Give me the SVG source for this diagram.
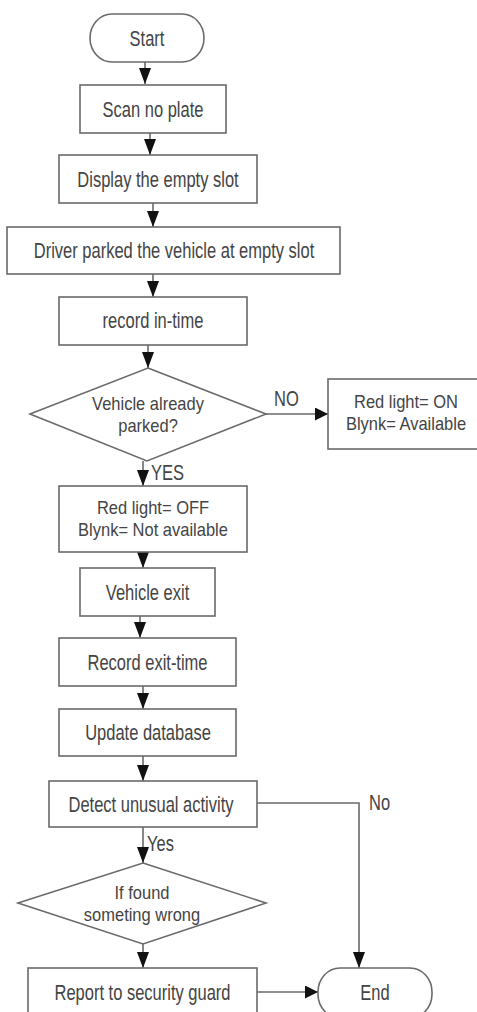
<svg xmlns="http://www.w3.org/2000/svg" width="477" height="1012" viewBox="0 0 477 1012">
<style>
.shape{fill:#fff;stroke:#6a6a6a;stroke-width:1.6}
.line{fill:none;stroke:#6a6a6a;stroke-width:1.6}
.t{font-family:"Liberation Sans",Arial,sans-serif;font-size:16.5px;fill:#444;text-anchor:middle}
.lbl{font-family:"Liberation Sans",Arial,sans-serif;font-size:16.5px;fill:#444}
</style>
<defs>
<marker id="arrV" markerUnits="userSpaceOnUse" markerWidth="16" markerHeight="12" refX="16" refY="6" orient="auto">
<path d="M0,0 L16,6 L0,12 z" fill="#111"/>
</marker>
<marker id="arrH" markerUnits="userSpaceOnUse" markerWidth="13" markerHeight="13" refX="13" refY="6.5" orient="auto">
<path d="M0,0 L13,6.5 L0,13 z" fill="#111"/>
</marker>
</defs>
<g id="connectors">
<path class="line" d="M145,62 V84" marker-end="url(#arrV)"/>
<path class="line" d="M150,133 V155" marker-end="url(#arrV)"/>
<path class="line" d="M153,203 V227" marker-end="url(#arrV)"/>
<path class="line" d="M153,274 V297" marker-end="url(#arrV)"/>
<path class="line" d="M148,345 V368" marker-end="url(#arrV)"/>
<path class="line" d="M266,414 H328" marker-end="url(#arrH)"/>
<path class="line" d="M143,461 V486" marker-end="url(#arrV)"/>
<path class="line" d="M143,552 V568" marker-end="url(#arrV)"/>
<path class="line" d="M140,616 V638" marker-end="url(#arrV)"/>
<path class="line" d="M143,686 V709" marker-end="url(#arrV)"/>
<path class="line" d="M143,756 V781" marker-end="url(#arrV)"/>
<path class="line" d="M143,827 V863" marker-end="url(#arrV)"/>
<path class="line" d="M143,944 V968" marker-end="url(#arrV)"/>
<path class="line" d="M257,992 H318" marker-end="url(#arrH)"/>
<path class="line" d="M257,803 H359 V968" marker-end="url(#arrV)"/>
<text class="lbl" transform="translate(274,398) scale(1,1.3)" dy="0.35em">NO</text>
<text class="lbl" transform="translate(151,472) scale(1,1.3)" dy="0.35em">YES</text>
<text class="lbl" transform="translate(147,843) scale(1,1.3)" dy="0.35em">Yes</text>
<text class="lbl" transform="translate(369,802) scale(1,1.3)" dy="0.35em">No</text>
</g>
<g id="start">
<rect class="shape" x="90" y="14" width="114" height="48" rx="22" ry="24"/>
<text class="t" transform="translate(147,38) scale(1,1.3)" dy="0.35em">Start</text>
</g>
<g id="scan">
<rect class="shape" x="80" y="85" width="146" height="48"/>
<text class="t" transform="translate(153,109) scale(1,1.3)" dy="0.35em">Scan no plate</text>
</g>
<g id="display">
<rect class="shape" x="59" y="155" width="198" height="48"/>
<text class="t" transform="translate(158,179) scale(1,1.3)" dy="0.35em">Display the empty slot</text>
</g>
<g id="driver">
<rect class="shape" x="7" y="227" width="333" height="47"/>
<text class="t" transform="translate(174,250) scale(1,1.3)" dy="0.35em">Driver parked the vehicle at empty slot</text>
</g>
<g id="record-in">
<rect class="shape" x="59" y="297" width="188" height="48"/>
<text class="t" transform="translate(153,320) scale(1,1.3)" dy="0.35em">record in-time</text>
</g>
<g id="decision-parked">
<polygon class="shape" points="148,368 266,414 147,461 30,414"/>
<text class="t" transform="translate(148,403.5) scale(1,1.15)"><tspan x="0" dy="0.35em">Vehicle already</tspan><tspan x="0" dy="18.8">parked?</tspan></text>
</g>
<g id="red-on">
<rect class="shape" x="328" y="379" width="160" height="70"/>
<text class="t" transform="translate(406,401.5) scale(1,1.15)"><tspan x="0" dy="0.35em">Red light= ON</tspan><tspan x="0" dy="18.8">Blynk= Available</tspan></text>
</g>
<g id="red-off">
<rect class="shape" x="59" y="486" width="188" height="66"/>
<text class="t" transform="translate(153,507.5) scale(1,1.15)"><tspan x="0" dy="0.35em">Red light= OFF</tspan><tspan x="0" dy="18.8">Blynk= Not available</tspan></text>
</g>
<g id="vehicle-exit">
<rect class="shape" x="80" y="568" width="135" height="48"/>
<text class="t" transform="translate(147.5,592) scale(1,1.3)" dy="0.35em">Vehicle exit</text>
</g>
<g id="record-exit">
<rect class="shape" x="59" y="638" width="177" height="48"/>
<text class="t" transform="translate(147.5,662) scale(1,1.3)" dy="0.35em">Record exit-time</text>
</g>
<g id="update-db">
<rect class="shape" x="59" y="709" width="177" height="47"/>
<text class="t" transform="translate(148,732) scale(1,1.3)" dy="0.35em">Update database</text>
</g>
<g id="detect">
<rect class="shape" x="49" y="781" width="208" height="46"/>
<text class="t" transform="translate(151,804) scale(1,1.3)" dy="0.35em">Detect unusual activity</text>
</g>
<g id="decision-wrong">
<polygon class="shape" points="143,863 266,903 143,944 18,903"/>
<text class="t" transform="translate(142,892.5) scale(1,1.15)"><tspan x="0" dy="0.35em">If found</tspan><tspan x="0" dy="18.8">someting wrong</tspan></text>
</g>
<g id="report">
<rect class="shape" x="28" y="968" width="229" height="50"/>
<text class="t" transform="translate(142.5,992) scale(1,1.3)" dy="0.35em">Report to security guard</text>
</g>
<g id="end">
<rect class="shape" x="318" y="968" width="114" height="50" rx="22" ry="24"/>
<text class="t" transform="translate(375,992) scale(1,1.3)" dy="0.35em">End</text>
</g>
</svg>
